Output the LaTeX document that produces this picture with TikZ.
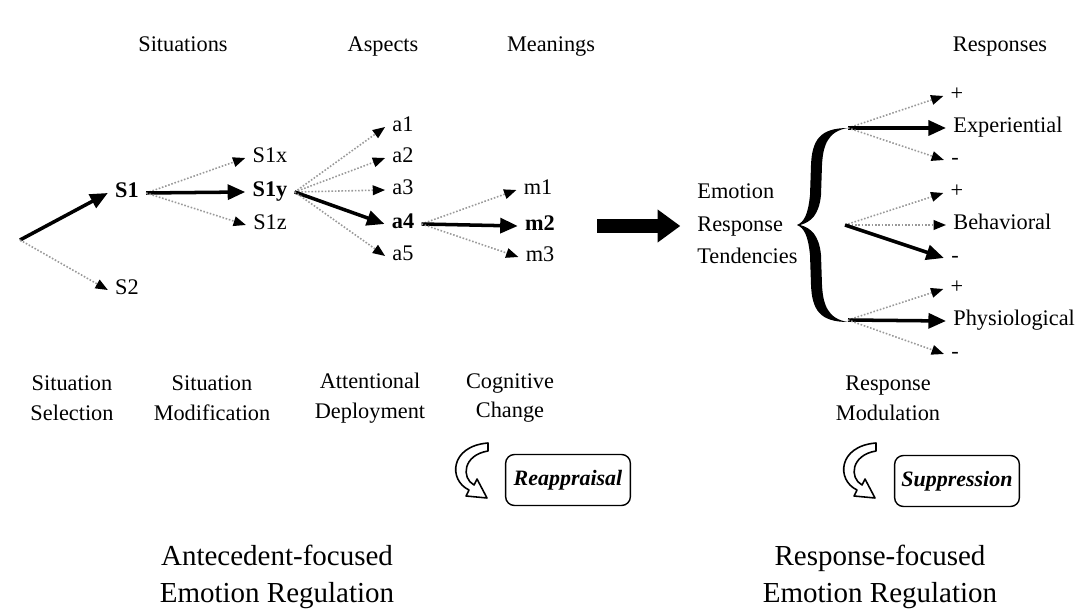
\documentclass[tikz,border=0pt]{standalone}
\usepackage{fontspec}
\setmainfont{Liberation Serif}
\usetikzlibrary{arrows.meta}
\tikzset{
	lbl/.style={font=\fontsize{12.7}{17}\selectfont, inner sep=4pt, text height=1.6ex, text depth=0.4ex},
	lblb/.style={lbl, font=\fontsize{12.7}{17}\selectfont\bfseries},
	stage/.style={font=\fontsize{12.7}{17}\selectfont, align=center},
	big/.style={font=\fontsize{16.5}{21}\selectfont, align=center},
	dots/.style={gray!80, densely dotted, line width=0.9pt, -{Triangle[length=7pt,width=5.5pt,color=black]}},
	heavy/.style={line width=2pt, -{Triangle[length=10pt,width=8.5pt]}},
	block/.style={line width=8pt, -{Triangle[length=13pt,width=18pt]}},
	tool/.style={draw, rounded corners=5pt, line width=0.8pt, minimum width=71pt, minimum height=29pt, font=\fontsize{12.5}{15}\selectfont\bfseries\itshape}
}
\begin{document}
\begin{tikzpicture}[x=0.02cm, y=-0.02cm]
		\useasboundingbox (0,0) rectangle (1077,614);
		\node[lbl] (sit) at (183,47) {Situations};
		\node[lbl] (asp) at (383,47) {Aspects};
		\node[lbl] (mea) at (551,47) {Meanings};
		\node[lbl] (res) at (1000,47) {Responses};
		
		\coordinate (start) at (20,240);
		\node[lblb] (s1) at (127,193) {S1};
		\node[lbl] (s2) at (127,290) {S2};
		\draw[heavy] (start) -- (s1.west);
		\draw[dots] (start) -- (s2.west);
		
		\node[lbl] (s1x) at (270,158) {S1x};
		\node[lblb] (s1y) at (270,192) {S1y};
		\node[lbl] (s1z) at (270,225) {S1z};
		\draw[dots] (s1.east) -- (s1x.west);
		\draw[heavy] (s1.east) -- (s1y.west);
		\draw[dots] (s1.east) -- (s1z.west);
		
		\node[lbl] (a1) at (403,127) {a1};
		\node[lbl] (a2) at (403,158) {a2};
		\node[lbl] (a3) at (403,190) {a3};
		\node[lblb] (a4) at (403,224) {a4};
		\node[lbl] (a5) at (403,256) {a5};
		\draw[dots] (s1y.east) -- (a1.west);
		\draw[dots] (s1y.east) -- (a2.west);
		\draw[dots] (s1y.east) -- (a3.west);
		\draw[heavy] (s1y.east) -- (a4.west);
		\draw[dots] (s1y.east) -- (a5.west);
		
		\node[lbl] (m1) at (538,190) {m1};
		\node[lblb] (m2) at (540,226) {m2};
		\node[lbl] (m3) at (540,257) {m3};
		\draw[dots] (a4.east) -- (m1.west);
		\draw[heavy] (a4.east) -- (m2.west);
		\draw[dots] (a4.east) -- (m3.west);
		
		\node[inner sep=4pt, align=left, anchor=west, font=\fontsize{12.7}{18.5}\selectfont] (ert) at (690,224) {Emotion\\Response\\Tendencies};
		\draw[block, shorten <=20pt, shorten >=5.5pt] (m2.east) -- (m2.east -| ert.west);
		
		\fill (848,128) .. controls (820,128) and (812,140) .. (811,165) -- (810,195)
			.. controls (808,215) and (804,222) .. (797,225)
			.. controls (804,228) and (808,235) .. (810,255) -- (811,285)
			.. controls (812,310) and (820,322) .. (848,322)
			.. controls (828,319) and (823,305) .. (822,285) -- (821,255)
			.. controls (819,235) and (811,228) .. (800,225)
			.. controls (811,222) and (819,215) .. (821,195) -- (822,165)
			.. controls (823,145) and (828,131) .. (848,128) -- cycle;
		
		\coordinate (exp) at (848,128);
		\coordinate (beh) at (845,225);
		\coordinate (phy) at (848,320);
		\node[lbl] (ep) at (957,96) {+};
		\node[lbl, anchor=west] (ex) at (946,128) {Experiential};
		\node[lbl] (em) at (955,160) {-};
		\node[lbl] (bp) at (957,193) {+};
		\node[lbl, anchor=west] (be) at (946,225) {Behavioral};
		\node[lbl] (bm) at (955,258) {-};
		\node[lbl] (pp) at (957,289) {+};
		\node[lbl, anchor=west] (ph) at (946,321) {Physiological};
		\node[lbl] (pm) at (955,354) {-};
		\draw[dots] (exp) -- (ep.west);
		\draw[heavy] (exp) -- (ex.west);
		\draw[dots] (exp) -- (em.west);
		\draw[dots] (beh) -- (bp.west);
		\draw[dots] (beh) -- (be.west);
		\draw[heavy] (beh) -- (bm.west);
		\draw[dots] (phy) -- (pp.west);
		\draw[heavy] (phy) -- (ph.west);
		\draw[dots] (phy) -- (pm.west);
		
		\node[stage] (sel) at (72,398) {Situation\\Selection};
		\node[stage] (mod) at (212,398) {Situation\\Modification};
		\node[stage] (att) at (370,398) {Attentional\\Deployment};
		\node[stage] (cog) at (510,398) {Cognitive\\Change};
		\node[stage] (rmod) at (888,398) {Response\\Modulation};
		
		\node[tool] (reap) at (568,480) {Reappraisal};
		\node[tool] (supp) at (957,481) {Suppression};
		\foreach \dx in {0,388}
		{
			\draw[line width=0.9pt, fill=white, line join=round, shift={(\dx,0)}]
				(488,443) -- (488,451) .. controls (463,455) and (461,478) .. (474,485)
				-- (477,479) -- (487,498) -- (466,496) -- (469,490)
				.. controls (448,480) and (450,446) .. (488,443) -- cycle;
		}
		
		\node[big] (ante) at (277,577) {Antecedent-focused\\Emotion Regulation};
		\node[big] (resp) at (880,577) {Response-focused\\Emotion Regulation};
	\end{tikzpicture}
\end{document}
